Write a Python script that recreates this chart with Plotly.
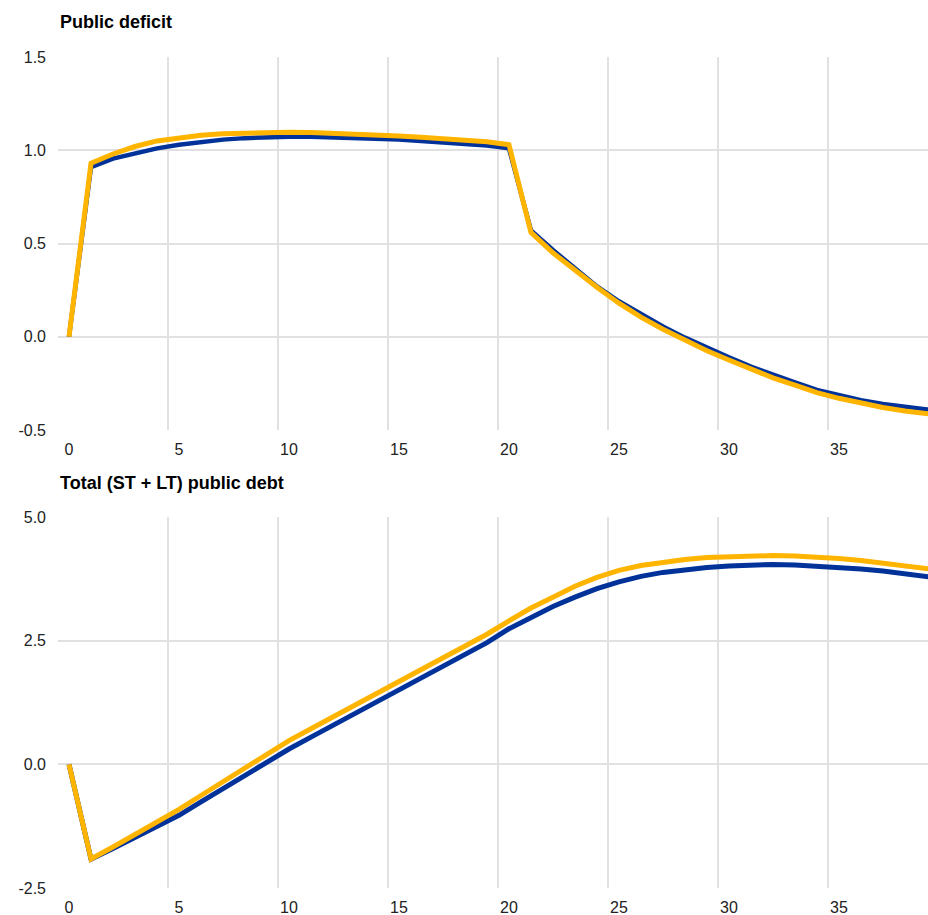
import plotly.graph_objects as go
from plotly.subplots import make_subplots

periods = list(range(0, 41))

deficit_blue = [0.0, 0.91, 0.955, 0.985, 1.01, 1.03, 1.045, 1.057, 1.065, 1.07, 1.073,
                1.073, 1.07, 1.066, 1.062, 1.057, 1.05, 1.043, 1.035, 1.025, 1.01,
                0.57, 0.465, 0.37, 0.27, 0.19, 0.12, 0.055, -0.005, -0.06, -0.11,
                -0.16, -0.205, -0.245, -0.285, -0.315, -0.34, -0.36, -0.376, -0.39, -0.40]
deficit_yellow = [0.0, 0.93, 0.98, 1.02, 1.05, 1.068, 1.08, 1.088, 1.093, 1.096, 1.097,
                  1.095, 1.092, 1.088, 1.083, 1.077, 1.07, 1.062, 1.054, 1.045, 1.03,
                  0.56, 0.45, 0.355, 0.265, 0.18, 0.105, 0.04, -0.02, -0.075, -0.125,
                  -0.175, -0.22, -0.26, -0.30, -0.33, -0.357, -0.379, -0.398, -0.414, -0.427]

debt_blue = [0.0, -1.915, -1.70, -1.48, -1.26, -1.03, -0.76, -0.49, -0.22, 0.05, 0.31,
             0.55, 0.79, 1.03, 1.27, 1.50, 1.74, 1.98, 2.22, 2.46, 2.74,
             2.97, 3.19, 3.38, 3.55, 3.69, 3.80, 3.88, 3.94, 3.98, 4.01,
             4.03, 4.04, 4.03, 4.01, 3.98, 3.95, 3.91, 3.86, 3.80, 3.74]
debt_yellow = [0.0, -1.915, -1.67, -1.42, -1.17, -0.91, -0.63, -0.35, -0.07, 0.21, 0.48,
               0.72, 0.96, 1.20, 1.43, 1.67, 1.91, 2.15, 2.39, 2.63, 2.90,
               3.16, 3.38, 3.60, 3.78, 3.92, 4.02, 4.09, 4.14, 4.18, 4.20,
               4.22, 4.22, 4.21, 4.19, 4.16, 4.12, 4.07, 4.02, 3.96, 3.90]

x_tick_vals = [0, 5, 10, 15, 20, 25, 30, 35]
x_tick_text = ["0", "5", "10", "15", "20", "25", "30", "35"]
x_grid_vals = [-0.5, 4.5, 9.5, 14.5, 19.5, 24.5, 29.5, 34.5]

deficit_ticks = [-0.5, 0.0, 0.5, 1.0, 1.5]
deficit_tick_text = ["-0.5", "0.0", "0.5", "1.0", "1.5"]
debt_ticks = [-2.5, 0.0, 2.5, 5.0]
debt_tick_text = ["-2.5", "0.0", "2.5", "5.0"]

BLUE = "#003299"
YELLOW = "#FFB400"
GRID = "#e1e1e1"
FONT = "Liberation Sans, Arial, sans-serif"

fig = make_subplots(rows=2, cols=1)

fig.add_trace(go.Scatter(x=periods, y=deficit_blue, mode="lines",
                         line=dict(color=BLUE, width=4.5), showlegend=False), row=1, col=1)
fig.add_trace(go.Scatter(x=periods, y=deficit_yellow, mode="lines",
                         line=dict(color=YELLOW, width=5), showlegend=False), row=1, col=1)
fig.add_trace(go.Scatter(x=periods, y=debt_blue, mode="lines",
                         line=dict(color=BLUE, width=5), showlegend=False), row=2, col=1)
fig.add_trace(go.Scatter(x=periods, y=debt_yellow, mode="lines",
                         line=dict(color=YELLOW, width=5), showlegend=False), row=2, col=1)

PLOT_TOP = 57
PLOT_BOT = 888
ph = PLOT_BOT - PLOT_TOP
FIG_W = 928
FIG_H = 915


def frac(p):
    return (PLOT_BOT - p) / ph


xcommon = dict(range=[-0.5, 39.05], tickmode="array", tickvals=x_tick_vals, ticktext=x_tick_text,
               showgrid=False, zeroline=False, showline=False, ticks="",
               ticklabelstandoff=8,
               tickfont=dict(family=FONT, size=16, color="#222222"),
               minor=dict(tickmode="array", tickvals=x_grid_vals, showgrid=True,
                          gridcolor=GRID, gridwidth=1.5, ticks=""))

fig.update_xaxes(**xcommon)

ycommon = dict(showgrid=True, gridcolor=GRID, gridwidth=1.5, zeroline=False, showline=False,
               ticks="", ticklabelstandoff=11,
               tickfont=dict(family=FONT, size=16, color="#222222"))
fig.update_yaxes(**ycommon)
fig.update_yaxes(range=[-0.5, 1.5], tickmode="array", tickvals=deficit_ticks,
                 ticktext=deficit_tick_text, domain=[frac(430), 1.0], row=1, col=1)
fig.update_yaxes(range=[-2.5, 5.0], tickmode="array", tickvals=debt_ticks,
                 ticktext=debt_tick_text, domain=[0.0, frac(517)], row=2, col=1)

fig.add_annotation(text="<b>Public deficit</b>", xref="paper", yref="paper", x=0, y=frac(22),
                   xanchor="left", yanchor="middle", showarrow=False,
                   font=dict(family=FONT, size=18, color="#000000"))
fig.add_annotation(text="<b>Total (ST + LT) public debt</b>", xref="paper", yref="paper", x=0,
                   y=frac(483), xanchor="left", yanchor="middle", showarrow=False,
                   font=dict(family=FONT, size=18, color="#000000"))

fig.update_layout(width=FIG_W, height=FIG_H,
                  margin=dict(l=58, r=0, t=PLOT_TOP, b=FIG_H - PLOT_BOT),
                  plot_bgcolor="white", paper_bgcolor="white", showlegend=False)

fig.write_html("out.html", config={"displayModeBar": False},
               post_script="document.body.style.margin='0';document.body.style.overflow='hidden';")
